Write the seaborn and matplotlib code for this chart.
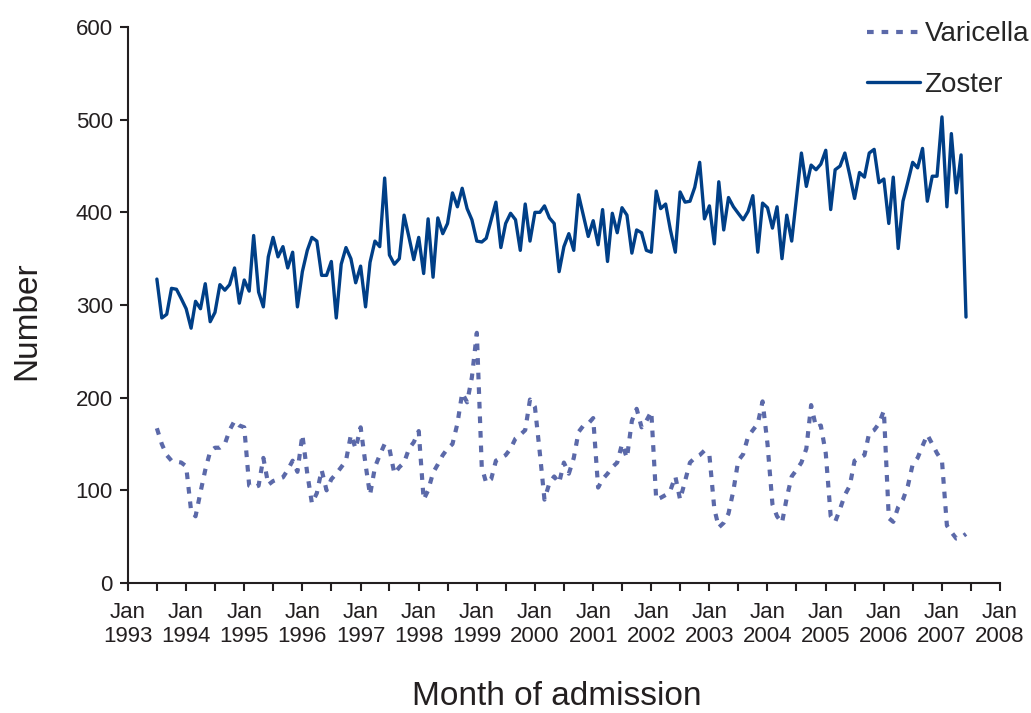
import matplotlib.pyplot as plt
import matplotlib.dates as mdates
import seaborn as sns
import pandas as pd


# monthly admissions, Jul 1993 .. Jun 2007
months = pd.date_range('1993-07-01', periods=168, freq='MS')

zoster = [
    328, 286, 290, 318, 317, 307,
    296, 275, 304, 296, 323, 282, 292, 322, 316, 322, 340, 302,
    327, 315, 375, 314, 298, 352, 373, 352, 363, 340, 357, 298,
    336, 359, 373, 369, 332, 332, 347, 286, 344, 362, 350, 324,
    342, 298, 346, 369, 363, 437, 354, 344, 350, 397, 373, 349,
    373, 334, 393, 330, 394, 377, 388, 421, 406, 426, 404, 392,
    369, 368, 372, 392, 411, 362, 388, 399, 392, 359, 409, 369,
    400, 400, 407, 394, 388, 336, 363, 377, 359, 419, 396, 374,
    391, 365, 403, 347, 399, 378, 405, 397, 356, 381, 378, 359,
    357, 423, 404, 409, 381, 357, 422, 411, 412, 427, 454, 393,
    407, 366, 433, 381, 416, 406, 399, 392, 401, 418, 357, 410,
    405, 383, 406, 350, 397, 369, 416, 464, 428, 451, 446, 452,
    467, 403, 446, 450, 464, 440, 415, 443, 438, 464, 468, 432,
    436, 388, 438, 361, 412, 433, 454, 448, 469, 412, 439, 439,
    503, 406, 485, 421, 462, 287,
]

varicella = [
    167, 150, 138, 132, 131, 130,
    126, 78, 72, 98, 122, 142, 146, 146, 150, 165, 175, 170,
    168, 105, 103, 105, 135, 106, 110, 112, 114, 122, 132, 120,
    160, 118, 86, 97, 122, 100, 112, 118, 125, 132, 160, 145,
    168, 128, 95, 125, 138, 150, 145, 118, 125, 130, 145, 152,
    164, 90, 100, 119, 128, 138, 145, 150, 172, 205, 195, 222,
    270, 125, 108, 112, 132, 135, 138, 145, 156, 160, 165, 198,
    190, 140, 90, 108, 115, 108, 130, 118, 135, 163, 170, 172,
    178, 103, 112, 118, 125, 130, 150, 135, 175, 188, 168, 175,
    185, 90, 92, 95, 100, 115, 90, 110, 130, 135, 138, 143,
    138, 80, 60, 65, 75, 100, 132, 139, 158, 165, 172, 196,
    150, 85, 72, 65, 92, 115, 122, 130, 145, 192, 168, 170,
    140, 72, 66, 80, 95, 105, 132, 135, 138, 162, 165, 172,
    186, 70, 66, 82, 90, 105, 128, 135, 148, 160, 150, 140,
    132, 62, 55, 48, 49, 53,
]

col_var = '#5b69a9'
col_zos = '#003f87'
ink = '#231f20'

sns.set_theme(style='ticks')
plt.rcParams['font.family'] = ['Liberation Sans', 'DejaVu Sans']

df = pd.DataFrame({'month': months, 'Varicella': varicella, 'Zoster': zoster})

fig = plt.figure(figsize=(10.31, 7.13), dpi=100)
ax = fig.add_axes([0.1242, 0.1823, 0.8458, 0.7798])

sns.lineplot(data=df, x='month', y='Varicella', ax=ax, color=col_var,
             linewidth=3.0, linestyle=(0, (1.6, 1.9)), label='Varicella')
sns.lineplot(data=df, x='month', y='Zoster', ax=ax, color=col_zos,
             linewidth=2.4, label='Zoster')

ax.set_xlim(pd.Timestamp('1993-01-01'), pd.Timestamp('2008-01-01'))
ax.set_ylim(0, 600)
ax.set_yticks(range(0, 601, 100))
ax.xaxis.set_major_locator(mdates.YearLocator())
ax.xaxis.set_major_formatter(mdates.DateFormatter('%b\n%Y'))
ax.xaxis.set_minor_locator(mdates.MonthLocator(bymonth=7))

ax.tick_params(which='both', direction='out', length=6, width=1.5,
               color=ink, labelcolor=ink, labelsize=16)
ax.tick_params(axis='x', pad=8)
ax.tick_params(axis='y', pad=5)
for lab in ax.get_xticklabels():
    lab.set_linespacing(1.15)

sns.despine(ax=ax)
for side in ['left', 'bottom']:
    ax.spines[side].set_color(ink)
    ax.spines[side].set_linewidth(1.5)

ax.set_xlabel('Month of admission', fontsize=24, color=ink)
ax.set_ylabel('Number', fontsize=24, color=ink)
ax.xaxis.set_label_coords(0.492, -0.176)
ax.yaxis.set_label_coords(-0.098, 0.471)

ax.legend(loc='upper right', bbox_to_anchor=(0.998, 0.970),
          bbox_transform=fig.transFigure, frameon=False, fontsize=20,
          handlelength=1.9, handletextpad=0.15, labelspacing=0.88,
          borderpad=0, borderaxespad=0)

fig.savefig('out.png', dpi=100)
